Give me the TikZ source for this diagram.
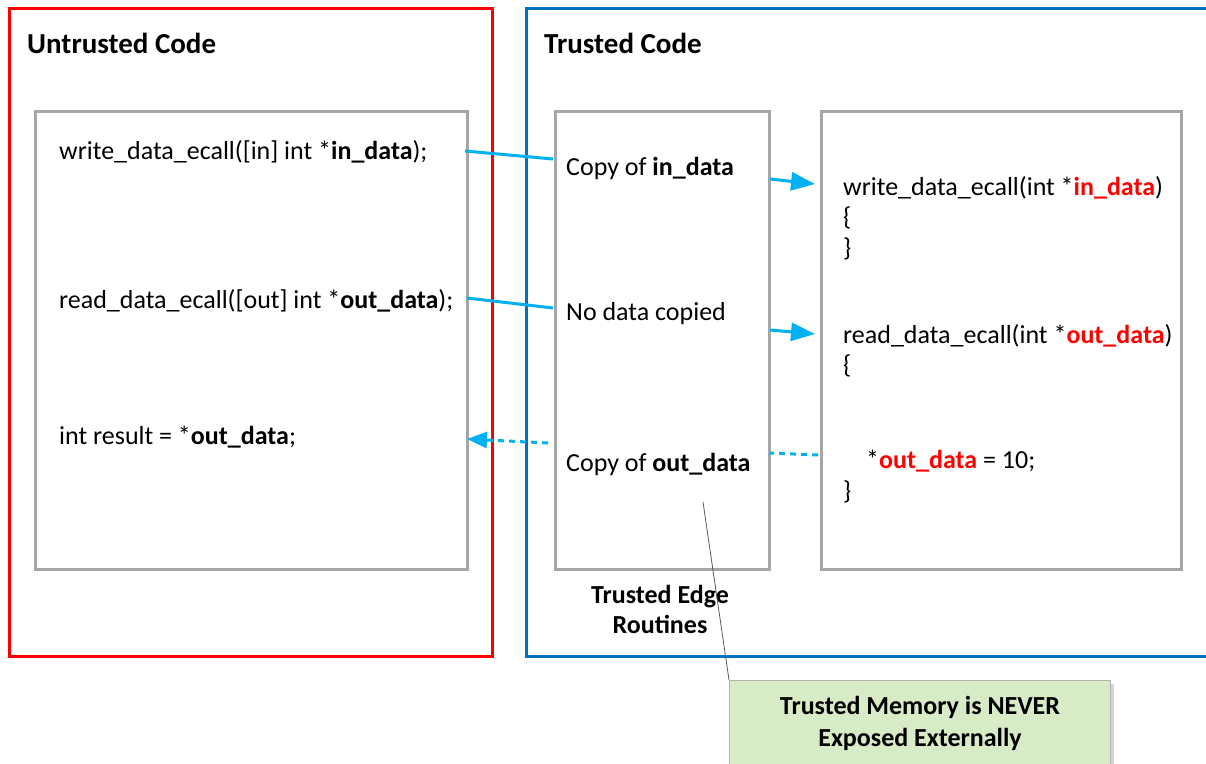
\documentclass[tikz,border=0pt]{standalone}
\usepackage{fontspec}
\setmainfont{Carlito}
\usetikzlibrary{arrows.meta,shadows}
\definecolor{redbox}{HTML}{FF0000}
\definecolor{bluebox}{HTML}{0070C0}
\definecolor{grayb}{HTML}{A6A6A6}
\definecolor{cyanl}{HTML}{00B0F0}
\definecolor{greenf}{HTML}{D6EBC6}
\tikzset{
  txt/.style={anchor=west, inner sep=0pt, font=\fontsize{26}{30}\selectfont},
  ttl/.style={anchor=west, inner sep=0pt, font=\bfseries\fontsize{29}{33}\selectfont},
  outerbox/.style={line width=3pt, anchor=north west, inner sep=0pt},
  innerbox/.style={draw=grayb, line width=3pt, anchor=north west, inner sep=0pt},
  conn/.style={draw=cyanl, line width=3pt},
  connarrow/.style={conn, -{Triangle[length=24pt,width=18pt]}},
  conndash/.style={conn, dash pattern=on 6pt off 5pt},
}
\begin{document}
\begin{tikzpicture}[x=1pt,y=-1pt]
\useasboundingbox (0,0) rectangle (1206,763);
% outer boxes
\node[outerbox, draw=redbox, minimum width=483pt, minimum height=648pt] (untrusted) at (8,7) {};
\node[outerbox, draw=bluebox, minimum width=700pt, minimum height=648pt] (trusted) at (525,7) {};
\node[ttl] (untitle) at (27,43) {Untrusted Code};
\node[ttl] (trtitle) at (544,43) {Trusted Code};
% inner boxes
\node[innerbox, minimum width=432pt, minimum height=458pt] (ubox) at (34,110) {};
\node[innerbox, minimum width=214pt, minimum height=458pt] (edge) at (554,110) {};
\node[innerbox, minimum width=360pt, minimum height=458pt] (enc) at (820,110) {};
% untrusted texts
\node[txt] (u1) at (59,152) {write\_data\_ecall([in] int *\textbf{in\_data});};
\node[txt] (u2) at (59,301) {read\_data\_ecall([out] int *\textbf{out\_data});};
\node[txt] (u3) at (59,437) {int result = *\textbf{out\_data};};
% edge texts
\node[txt] (e1) at (566,168) {Copy of \textbf{in\_data}};
\node[txt] (e2) at (566,314) {No data copied};
\node[txt] (e3) at (566,464) {Copy of \textbf{out\_data}};
\node[anchor=north, inner sep=0pt, align=center, font=\bfseries\fontsize{26}{30}\selectfont] (edgelbl) at (660,585) {Trusted Edge\\Routines};
% enclave texts
\node[txt] (t1) at (843,188) {write\_data\_ecall(int *\textcolor{redbox}{\textbf{in\_data}})};
\node[txt] (t2) at (843,218) {\{};
\node[txt] (t3) at (843,249) {\}};
\node[txt] (t4) at (843,336) {read\_data\_ecall(int *\textcolor{redbox}{\textbf{out\_data}})};
\node[txt] (t5) at (843,366) {\{};
\node[txt] (t6) at (866,461) {*\textcolor{redbox}{\textbf{out\_data}} = 10;};
\node[txt] (t7) at (843,492) {\}};
% connectors
\coordinate (a1s) at (465,151);
\coordinate (a1e) at (553,159);
\coordinate (a2s) at (467,298);
\coordinate (a2e) at (553,308);
\coordinate (b1s) at (770,179);
\coordinate (b1e) at (815,184);
\coordinate (b2s) at (770,330);
\coordinate (b2e) at (815,334);
\coordinate (d1s) at (548,443);
\coordinate (d1e) at (467,439);
\coordinate (d2s) at (818,455);
\coordinate (d2e) at (770,453);
\draw[conn] (a1s) -- (a1e);
\draw[conn] (a2s) -- (a2e);
\draw[connarrow] (b1s) -- (b1e);
\draw[connarrow] (b2s) -- (b2e);
\draw[conndash, -{Triangle[length=20pt,width=16pt]}] (d1s) -- (d1e);
\draw[conndash] (d2s) -- (d2e);
% callout
\node[anchor=north west, draw=gray!60, fill=greenf, line width=1pt,
      minimum width=381pt, minimum height=86pt, inner sep=0pt, align=center,
      font=\bfseries\fontsize{26}{32}\selectfont,
      drop shadow={shadow xshift=3pt, shadow yshift=-3pt, opacity=0.35}] (callout) at (729,680)
      {Trusted Memory is NEVER\\Exposed Externally};
\coordinate (ptr) at (703,502);
\draw[gray!70!black, line width=0.8pt] (ptr) -- (callout.north west);
\end{tikzpicture}
\end{document}
